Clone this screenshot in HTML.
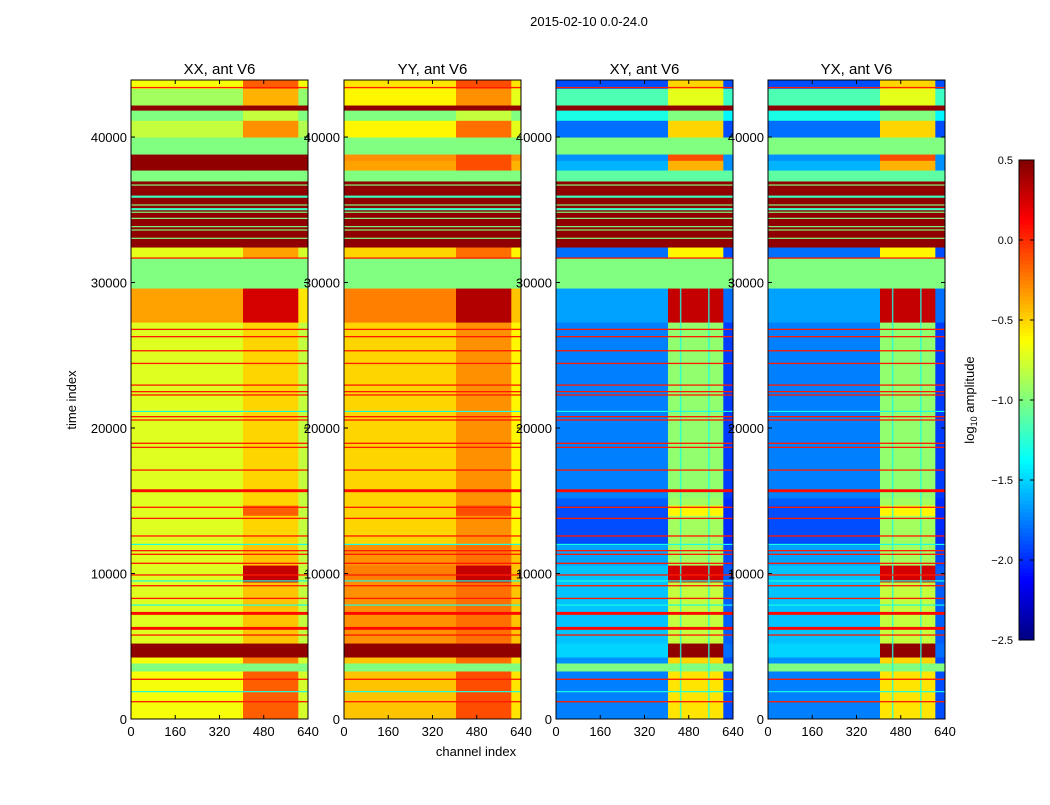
<!DOCTYPE html>
<html><head><meta charset="utf-8"><style>
body{margin:0;background:#fff;}
svg text{font-family:"Liberation Sans",sans-serif;}
</style></head><body>
<svg id="c" width="1050" height="800" xmlns="http://www.w3.org/2000/svg">
<text x="589" y="26" font-size="13" text-anchor="middle">2015-02-10 0.0-24.0</text>
<text x="76" y="400" font-size="13" text-anchor="middle" transform="rotate(-90 76 400)">time index</text>
<text x="476" y="756" font-size="13" text-anchor="middle">channel index</text>
<text x="974" y="400" font-size="13" text-anchor="middle" transform="rotate(-90 974 400)">log<tspan font-size="9" dy="3">10</tspan><tspan dy="-3"> amplitude</tspan></text>
</svg>
<script>
const panelTitles=["XX, ant V6","YY, ant V6","XY, ant V6","YX, ant V6"];
const xTicks=[0,160,320,480,640];
const yTicks=[0,10000,20000,30000,40000];
const cbTicks=[0.5,0.0,-0.5,-1.0,-1.5,-2.0,-2.5];
const chanSegs=[0,405,605,640];
const bandEdges=[0,3300,3850,4260,5220,9420,10580,12000,14000,14700,15200,27280,29620,31680,32440,36980,37730,38400,38830,40000,41150,41850,42200,43350,43920];
const xxVals=[[-0.65,-0.15,-0.75],[-1,-1,-1],[-0.65,-0.25,-0.75],[0.45,0.45,0.45],[-0.72,-0.45,-0.8],[-0.72,0.3,-0.8],[-0.72,-0.45,-0.8],[-0.72,-0.5,-0.8],[-0.72,-0.15,-0.8],[-0.72,-0.5,-0.8],[-0.72,-0.5,-0.8],[-0.35,0.25,-0.55],[-1,-1,-1],[-0.7,-0.35,-0.75],[0.45,0.45,0.45],[-1,-1,-1],[0.45,0.45,0.45],[0.45,0.45,0.45],[-1,-1,-1],[-0.8,-0.3,-0.85],[-1,-0.8,-1],[0.45,0.45,0.45],[-0.9,-0.4,-0.95],[-0.65,-0.15,-0.65]];
const yyVals=[[-0.45,-0.1,-0.55],[-1,-1,-1],[-0.45,-0.2,-0.55],[0.45,0.45,0.45],[-0.3,-0.2,-0.45],[-0.25,0.3,-0.45],[-0.3,-0.2,-0.45],[-0.5,-0.3,-0.6],[-0.5,-0.1,-0.6],[-0.5,-0.3,-0.6],[-0.5,-0.3,-0.6],[-0.25,0.35,-0.45],[-1,-1,-1],[-0.5,-0.2,-0.6],[0.45,0.45,0.45],[-1,-1,-1],[-0.35,-0.1,-0.4],[-0.3,-0.1,-0.3],[-1,-1,-1],[-0.6,-0.2,-0.7],[-1,-0.8,-1],[0.45,0.45,0.45],[-0.6,-0.3,-0.7],[-0.55,-0.1,-0.55]];
const xyVals=[[-1.75,-0.55,-1.9],[-1,-1,-1],[-1.7,-0.5,-1.9],[-1.5,0.45,-1.8],[-1.55,-0.8,-1.85],[-1.55,0.25,-1.85],[-1.65,-0.9,-1.9],[-1.9,-0.9,-2.0],[-1.9,-0.6,-2.0],[-1.85,-0.9,-2.0],[-1.75,-0.95,-1.95],[-1.65,0.3,-1.8],[-1,-1,-1],[-1.8,-0.6,-1.9],[0.45,0.45,0.45],[-1.1,-1.1,-1.1],[-1.6,-0.4,-1.7],[-1.7,-0.1,-1.7],[-1,-1,-1],[-1.8,-0.5,-1.9],[-1.3,-1.0,-1.4],[0.45,0.45,0.45],[-1.15,-0.7,-1.2],[-1.9,-0.5,-1.9]];
const yxVals=[[-1.75,-0.55,-1.9],[-1,-1,-1],[-1.7,-0.5,-1.9],[-1.5,0.45,-1.8],[-1.55,-0.8,-1.85],[-1.55,0.25,-1.85],[-1.65,-0.9,-1.9],[-1.9,-0.9,-2.0],[-1.9,-0.6,-2.0],[-1.85,-0.9,-2.0],[-1.75,-0.95,-1.95],[-1.65,0.3,-1.8],[-1,-1,-1],[-1.8,-0.6,-1.9],[0.45,0.45,0.45],[-1.1,-1.1,-1.1],[-1.6,-0.4,-1.7],[-1.7,-0.1,-1.7],[-1,-1,-1],[-1.8,-0.5,-1.9],[-1.3,-1.0,-1.4],[0.45,0.45,0.45],[-1.15,-0.7,-1.2],[-1.9,-0.5,-1.9]];
const lineTimes=[1190,2730,5770,6230,7260,8290,9160,9900,10700,11320,11570,12580,13790,14550,15690,17110,18670,18950,20550,20780,22270,22500,22950,24440,25310,26280,26780,31680,43400,1880,7830,9490,12000,21140,33040,33610,33840,34410,34830,35040,35330,35900,36700];
const lineVals=[0.05,0.05,0.05,0.1,0.1,0.05,0.05,0.05,0.05,0.05,0.05,0.05,0.05,0.05,0.1,0.05,0.05,0.05,0.05,0.05,0.05,0.05,0.05,0.05,0.05,0.05,0.05,0.05,0.05,-1.3,-1.3,-1.3,-1.3,-1.3,-1.0,-1.0,-1.0,-1.0,-1.0,-1.2,-1.0,-1.2,-1.0];
const lineDurs=[90,90,90,200,200,90,90,90,90,90,90,90,90,90,200,90,90,90,90,90,90,90,90,90,90,90,90,90,90,80,80,80,80,80,80,80,80,80,80,150,80,150,80];
const stripeChans=[448,550];
const stripeVals=[-1.3,-1.3];
const allVals=[xxVals,yyVals,xyVals,yxVals];
const panelX=[131,344,556,768];
const PW=177, TOP=80, BOT=719, YMAX=43920, XMAX=640;
const NS="http://www.w3.org/2000/svg";
const svg=document.getElementById('c');
function jet(v){let t=(v+2.5)/3;t=Math.max(0,Math.min(1,t));
 const f=x=>Math.round(255*Math.max(0,Math.min(1,1.5-Math.abs(4*t-x))));
 return `rgb(${f(3)},${f(2)},${f(1)})`;}
function yS(v){return BOT-(v/YMAX)*(BOT-TOP);}
function mk(tag,a){const e=document.createElementNS(NS,tag);for(const k in a)e.setAttribute(k,a[k]);svg.appendChild(e);return e;}
function txt(x,y,s,sz,anc){const e=mk('text',{x:x,y:y,'font-size':sz,'text-anchor':anc});e.textContent=s;return e;}
allVals.forEach((vals,p)=>{
 const x0=panelX[p];const xS=c=>x0+(c/XMAX)*PW;
 for(let b=0;b<bandEdges.length-1;b++){for(let s=0;s<chanSegs.length-1;s++){
  const r=mk('rect',{x:xS(chanSegs[s]),y:yS(bandEdges[b+1]),width:xS(chanSegs[s+1])-xS(chanSegs[s])+0.5,height:yS(bandEdges[b])-yS(bandEdges[b+1])+0.5,fill:jet(vals[b][s])});
  
  }}
 if(p>=2){stripeChans.forEach((c,i)=>{
  const r=mk('rect',{x:xS(c),y:yS(29620),width:1.5,height:yS(0)-yS(29620),fill:jet(stripeVals[i]),opacity:0.8});
  
  });}
 lineTimes.forEach((t,i)=>{
  const r=mk('rect',{x:x0,y:yS(t+lineDurs[i]/2),width:PW,height:yS(t-lineDurs[i]/2)-yS(t+lineDurs[i]/2),fill:jet(lineVals[i])});
  
  });
 const fr=mk('rect',{x:x0,y:TOP,width:PW,height:BOT-TOP,fill:'none',stroke:'#000','stroke-width':1});
 
 
 const tt=txt(x0+PW/2,74,panelTitles[p],15,'middle');
 
 
 xTicks.forEach(v=>{const x=xS(v);
  mk('line',{x1:x,x2:x,y1:BOT,y2:BOT-4,stroke:'#000'});mk('line',{x1:x,x2:x,y1:TOP,y2:TOP+4,stroke:'#000'});
  const l=txt(x,736,String(v),13,'middle');
  
  });
 yTicks.forEach(v=>{const y=yS(v);
  mk('line',{x1:x0,x2:x0+4,y1:y,y2:y,stroke:'#000'});mk('line',{x1:x0+PW,x2:x0+PW-4,y1:y,y2:y,stroke:'#000'});
  const l=txt(x0-4,y+5,String(v),13,'end');
  
  });
});
const CBT=160,CBB=640,CBX=1019,CBW=15;
const cS=v=>CBB-(v+2.5)/3*(CBB-CBT);
for(let i=0;i<120;i++){const v0=-2.5+3*i/120,v1=-2.5+3*(i+1)/120;
 const r=mk('rect',{x:CBX,y:cS(v1),width:CBW,height:cS(v0)-cS(v1)+0.5,fill:jet((v0+v1)/2)});
 
 }
const cb=mk('rect',{x:CBX,y:CBT,width:CBW,height:CBB-CBT,fill:'none',stroke:'#000'});


cbTicks.forEach(v=>{const y=cS(v);
 mk('line',{x1:CBX,x2:CBX+4,y1:y,y2:y,stroke:'#000'});mk('line',{x1:CBX+CBW,x2:CBX+CBW-4,y1:y,y2:y,stroke:'#000'});
 const l=txt(1013,y+4,v.toFixed(1).replace('-','\u2212'),11,'end');
 
 });
</script>
</body></html>
